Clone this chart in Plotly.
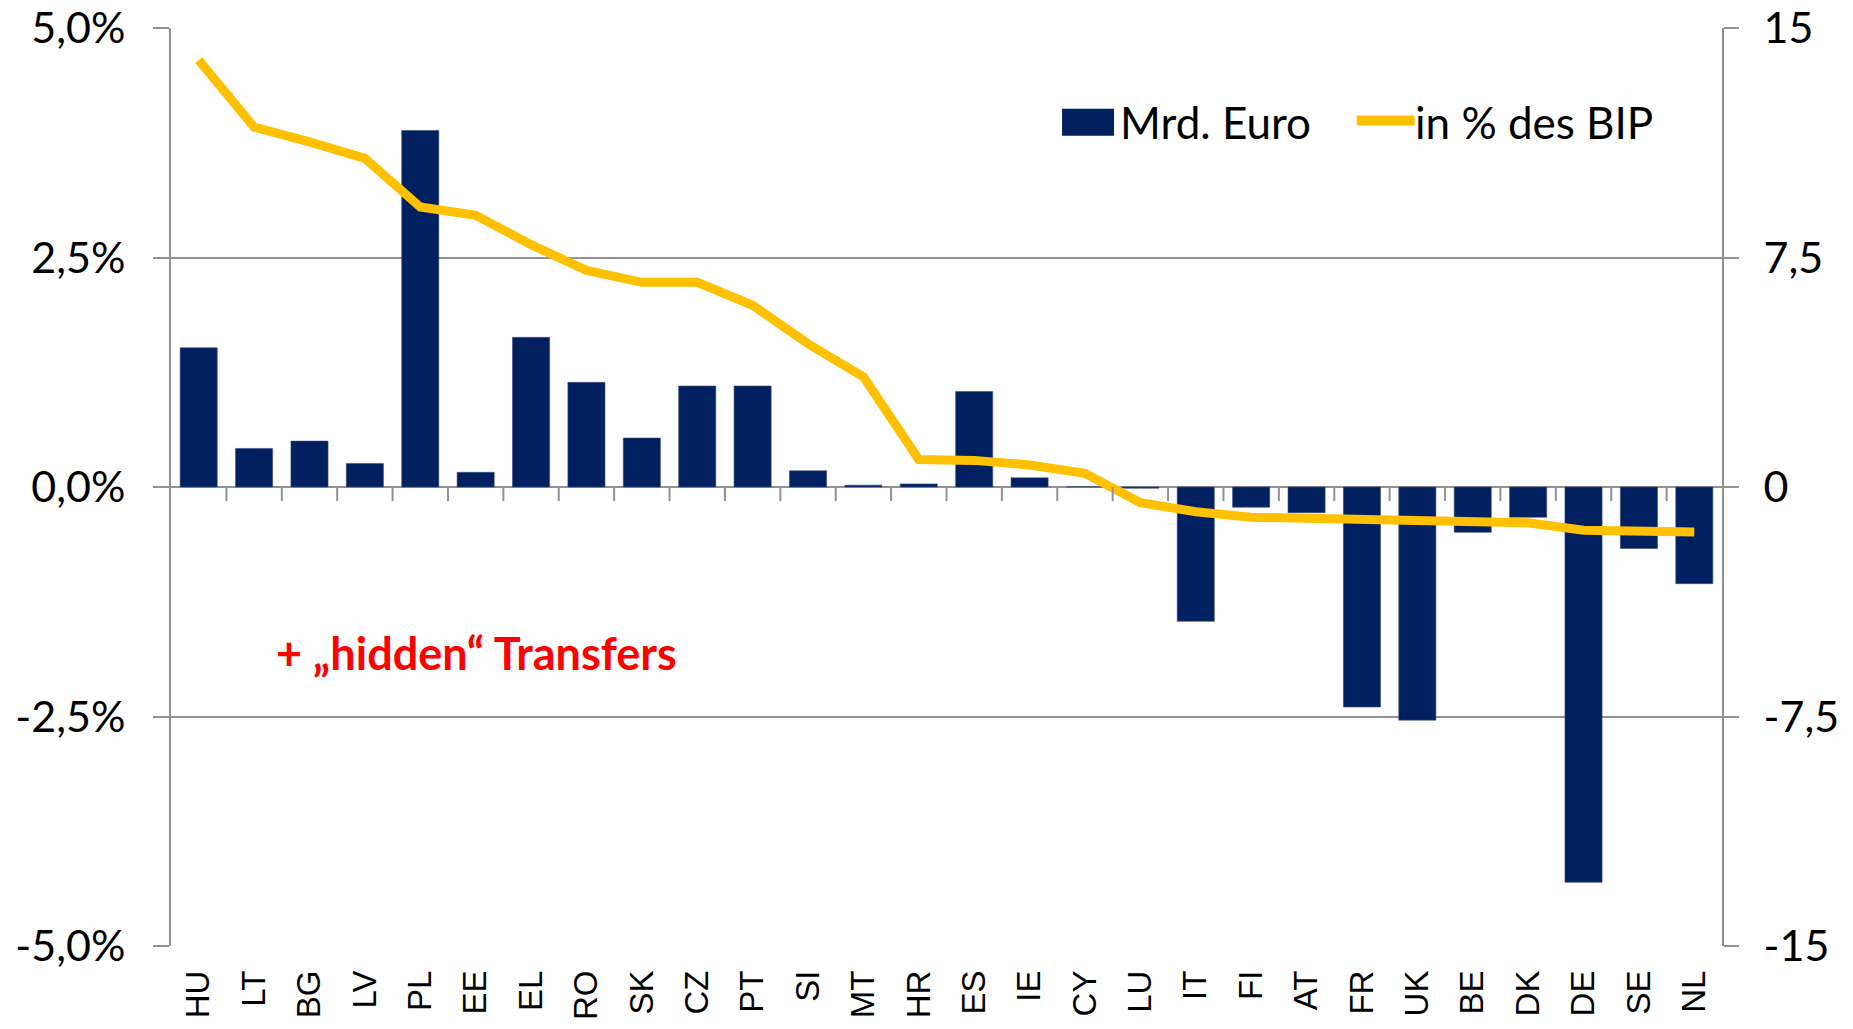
import plotly.graph_objects as go

# EU net balance per member state
countries = ["HU", "LT", "BG", "LV", "PL", "EE", "EL", "RO", "SK", "CZ",
             "PT", "SI", "MT", "HR", "ES", "IE", "CY", "LU", "IT", "FI",
             "AT", "FR", "UK", "BE", "DK", "DE", "SE", "NL"]
# net balance, billion euro (right axis)
mrd_euro = [4.55, 1.26, 1.50, 0.77, 11.65, 0.48, 4.89, 3.42, 1.60, 3.30,
            3.30, 0.53, 0.06, 0.10, 3.12, 0.30, 0.01, -0.04, -4.39, -0.66,
            -0.84, -7.19, -7.62, -1.48, -0.99, -12.92, -2.01, -3.16]
# net balance in % of GDP (left axis)
pct_bip = [4.65, 3.92, 3.76, 3.58, 3.05, 2.96, 2.64, 2.36, 2.23, 2.23,
           1.98, 1.56, 1.20, 0.30, 0.29, 0.24, 0.15, -0.17, -0.27, -0.33,
           -0.34, -0.35, -0.37, -0.38, -0.39, -0.47, -0.47, -0.49]

pct_ticks = [-5, -2.5, 0, 2.5, 5]
pct_ticktext = ["-5,0%", "-2,5%", "0,0%", "2,5%", "5,0%"]
mrd_ticks = [-15, -7.5, 0, 7.5, 15]
mrd_ticktext = ["-15", "-7,5", "0", "7,5", "15"]

bar_name = "Mrd. Euro"
line_name = "in % des BIP"

NAVY = "#002060"
GOLD = "#FFC000"
GRID = "#929292"
FONT = "Lato, 'Open Sans', sans-serif"

fig = go.Figure()

fig.add_trace(go.Bar(
    x=countries, y=mrd_euro, name=bar_name,
    marker=dict(color=NAVY, line=dict(color="#3a4f7a", width=0.6)),
    yaxis="y",
))
fig.add_trace(go.Scatter(
    x=countries, y=pct_bip, name=line_name, mode="lines",
    line=dict(color=GOLD, width=9),
    yaxis="y2",
))

# category tick marks sitting on the zero line
for i in range(1, len(countries)):
    fig.add_shape(type="line", xref="x", yref="y",
                  x0=i - 0.5, x1=i - 0.5, y0=0, y1=-0.46,
                  line=dict(color=GRID, width=2))

# hand-drawn legend (Excel style: big swatch, long line sample)
fig.add_shape(type="rect", xref="paper", yref="paper",
              x0=0.5745, x1=0.6080, y0=0.8825, y1=0.9121,
              fillcolor=NAVY, line=dict(width=0))
fig.add_annotation(text=bar_name, xref="paper", yref="paper",
                   x=0.6106, y=0.8979, xanchor="left", yanchor="middle",
                   showarrow=False, font=dict(family=FONT, size=44))
fig.add_shape(type="line", xref="paper", yref="paper",
              x0=0.7645, x1=0.8018, y0=0.8992, y1=0.8992,
              line=dict(color=GOLD, width=10))
fig.add_annotation(text=line_name, xref="paper", yref="paper",
                   x=0.8010, y=0.8979, xanchor="left", yanchor="middle",
                   showarrow=False, font=dict(family=FONT, size=44))

fig.add_annotation(
    text="+ \u201ehidden\u201c Transfers", xref="paper", yref="paper",
    x=0.197, y=0.319, xanchor="center", yanchor="middle", showarrow=False,
    font=dict(family=FONT, size=45, color="#FF0000", weight="bold"),
)

# page body has an 8px margin, so the figure is 16px smaller than the window
fig.update_layout(
    width=1837, height=1013,
    margin=dict(l=163, r=123, t=20, b=75),
    plot_bgcolor="white", paper_bgcolor="white",
    bargap=0.33,
    separators=",.",
    font=dict(family=FONT, size=43, color="black"),
    showlegend=False,
    xaxis=dict(
        type="category", showgrid=False, showline=False, zeroline=False,
        tickangle=-90, ticks="", ticklabelstandoff=17,
        ticklabeloverflow="allow",
        tickfont=dict(family="Liberation Sans, Arial, sans-serif", size=33),
        automargin=False,
    ),
    yaxis=dict(
        range=[-15, 15], side="right", tickvals=mrd_ticks, ticktext=mrd_ticktext,
        showgrid=True, gridcolor=GRID, gridwidth=2, zeroline=False,
        showline=True, linecolor=GRID, linewidth=2,
        ticks="outside", ticklen=15, tickcolor=GRID, tickwidth=2,
        ticklabelstandoff=16, ticklabeloverflow="allow", automargin=False,
    ),
    yaxis2=dict(
        range=[-5, 5], side="left", overlaying="y", tickvals=pct_ticks,
        ticktext=pct_ticktext, showgrid=False, zeroline=False,
        showline=True, linecolor=GRID, linewidth=2,
        ticks="outside", ticklen=16, tickcolor=GRID, tickwidth=2,
        ticklabelstandoff=19, ticklabeloverflow="allow", automargin=False,
    ),
)

fig.write_html("out.html")
